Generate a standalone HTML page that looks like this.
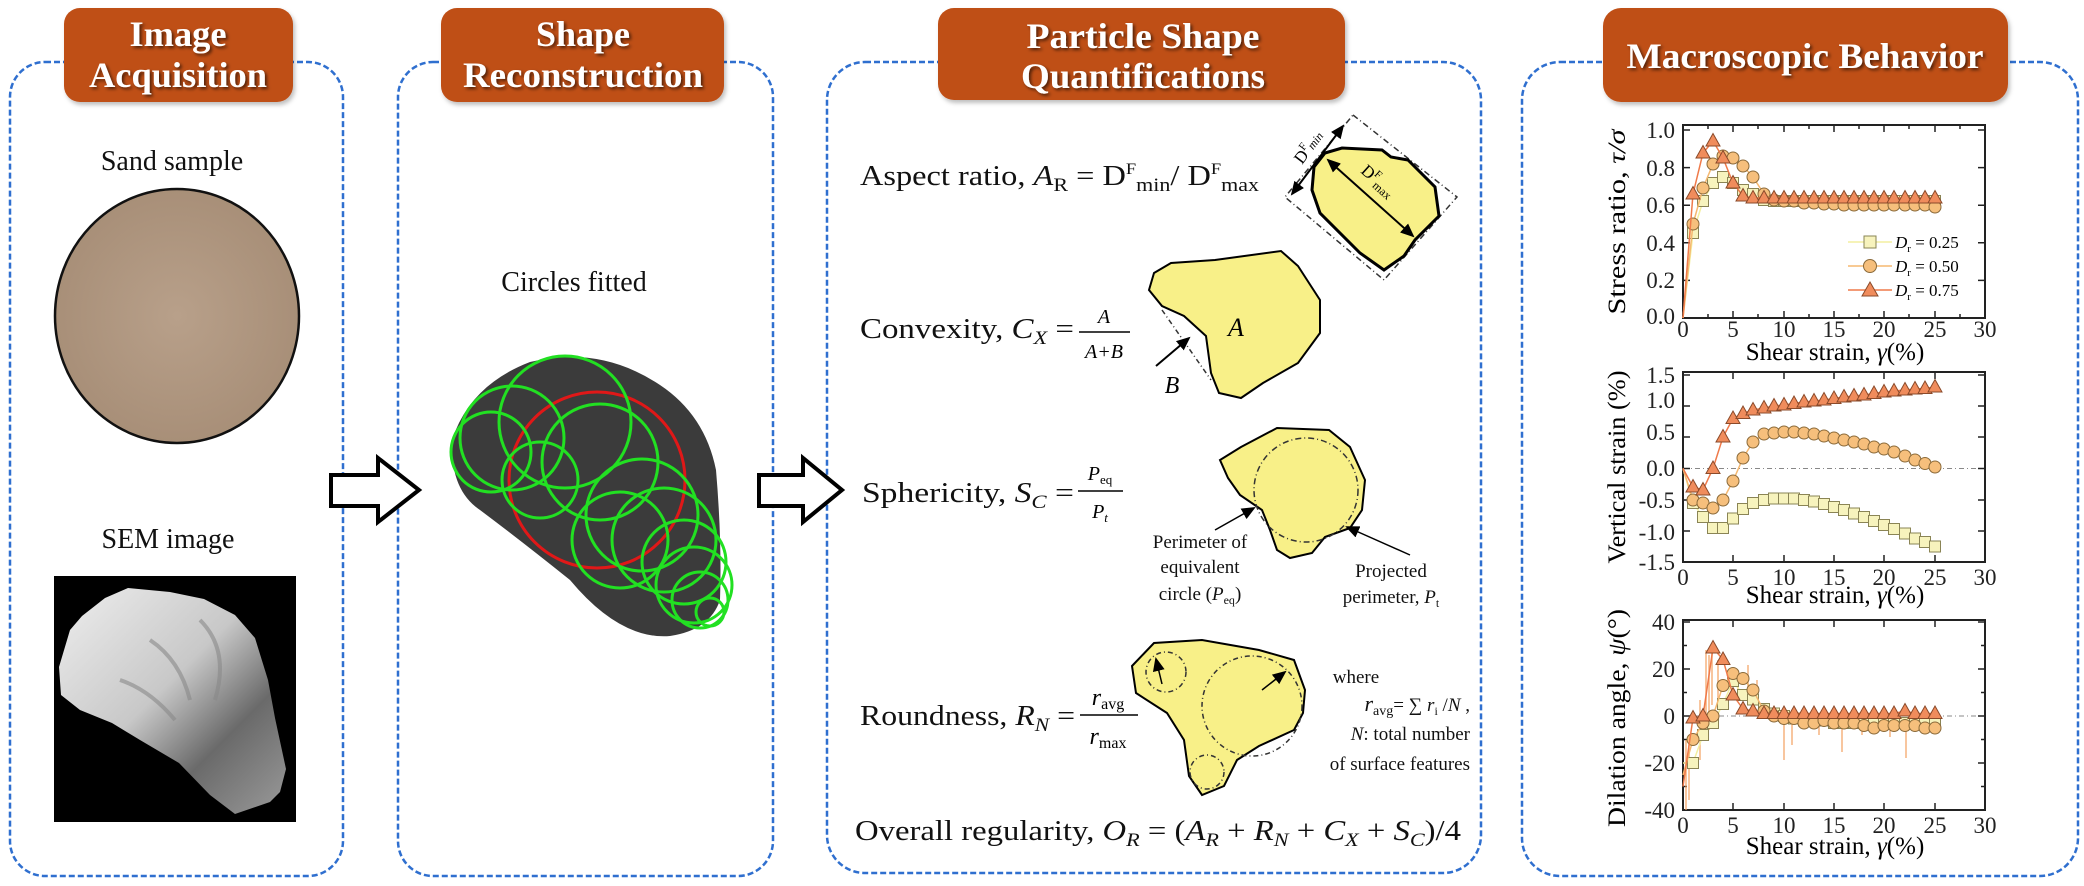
<!DOCTYPE html>
<html><head><meta charset="utf-8"><style>
html,body{margin:0;padding:0;background:#fff;}
svg{display:block;}
text{font-family:"Liberation Serif",serif;}
.hd{fill:#fff;font-weight:bold;font-size:36px;text-anchor:middle;}
.pn{fill:none;stroke:#2f6fcf;stroke-width:2.5;stroke-dasharray:6 3;}
.hb{fill:#bf5019;}
.t{font-size:28px;fill:#111;}
.tk{font-size:23px;fill:#222;}
.ax{fill:none;stroke:#222;stroke-width:2;}
.sm{font-size:19px;fill:#111;}
</style></head><body>
<svg width="2084" height="886" viewBox="0 0 2084 886" xmlns="http://www.w3.org/2000/svg">
<defs>
<filter id="sh" x="-10%" y="-10%" width="120%" height="130%"><feDropShadow dx="2" dy="2" stdDeviation="1.5" flood-color="#000" flood-opacity="0.6"/></filter>
<filter id="bs" x="-10%" y="-10%" width="120%" height="130%"><feDropShadow dx="2" dy="3" stdDeviation="2" flood-color="#000" flood-opacity="0.25"/></filter>
<radialGradient id="sand" cx="50%" cy="50%" r="50%"><stop offset="0" stop-color="#b8a08a"/><stop offset="1" stop-color="#a88f78"/></radialGradient>
<linearGradient id="rock" x1="0" y1="0" x2="1" y2="1"><stop offset="0" stop-color="#eeeeee"/><stop offset="0.45" stop-color="#c8c8c8"/><stop offset="0.7" stop-color="#6a6a6a"/><stop offset="1" stop-color="#9a9a9a"/></linearGradient>
<marker id="msq" markerUnits="userSpaceOnUse" markerWidth="14" markerHeight="14" refX="7" refY="7"><rect x="1.5" y="1.5" width="11" height="11" fill="#f7f3bd" stroke="#8a8455" stroke-width="1"/></marker>
<marker id="mci" markerUnits="userSpaceOnUse" markerWidth="14" markerHeight="14" refX="7" refY="7"><circle cx="7" cy="7" r="6" fill="#f6bf7c" stroke="#8a6a3a" stroke-width="1"/></marker>
<marker id="mtr" markerUnits="userSpaceOnUse" markerWidth="16" markerHeight="16" refX="8" refY="9"><path d="M8 1.5 L15 14 L1 14 Z" fill="#f08c5c" stroke="#8a4a2a" stroke-width="1"/></marker>
<marker id="ah" markerUnits="userSpaceOnUse" markerWidth="14" markerHeight="12" refX="12" refY="6" orient="auto"><path d="M0 0 L14 6 L0 12 Z" fill="#000"/></marker>
<marker id="ahs" markerUnits="userSpaceOnUse" markerWidth="14" markerHeight="12" refX="2" refY="6" orient="auto"><path d="M14 0 L0 6 L14 12 Z" fill="#000"/></marker>
</defs>

<rect class="pn" x="10" y="62" width="333" height="814" rx="35"/>
<rect class="pn" x="398" y="62" width="375" height="814" rx="35"/>
<rect class="pn" x="827" y="62" width="654" height="811" rx="38"/>
<rect class="pn" x="1522" y="62" width="556" height="814" rx="38"/>

<rect class="hb" filter="url(#bs)" x="64" y="8" width="229" height="94" rx="16"/>
<text class="hd" filter="url(#sh)" x="178" y="46" font-size="34" textLength="97" lengthAdjust="spacingAndGlyphs">Image</text>
<text class="hd" filter="url(#sh)" x="178" y="87" font-size="34" textLength="178" lengthAdjust="spacingAndGlyphs">Acquisition</text>

<rect class="hb" filter="url(#bs)" x="441" y="8" width="283" height="94" rx="16"/>
<text class="hd" filter="url(#sh)" x="583" y="46" font-size="34" textLength="94" lengthAdjust="spacingAndGlyphs">Shape</text>
<text class="hd" filter="url(#sh)" x="583" y="87" font-size="34" textLength="240" lengthAdjust="spacingAndGlyphs">Reconstruction</text>

<rect class="hb" filter="url(#bs)" x="938" y="8" width="407" height="92" rx="16"/>
<text class="hd" filter="url(#sh)" x="1143" y="48" textLength="233" lengthAdjust="spacingAndGlyphs">Particle Shape</text>
<text class="hd" filter="url(#sh)" x="1143" y="88" textLength="244" lengthAdjust="spacingAndGlyphs">Quantifications</text>

<rect class="hb" filter="url(#bs)" x="1603" y="8" width="405" height="94" rx="18"/>
<text class="hd" filter="url(#sh)" x="1805" y="68" textLength="357" lengthAdjust="spacingAndGlyphs">Macroscopic Behavior</text>

<text class="t" x="172" y="170" font-size="41" text-anchor="middle">Sand sample</text>
<ellipse cx="177" cy="316" rx="122" ry="127" fill="url(#sand)" stroke="#111" stroke-width="2.5"/>
<text class="t" x="168" y="548" font-size="41" text-anchor="middle">SEM image</text>
<rect x="54" y="576" width="242" height="246" fill="#000"/>
<path d="M59 667 L70 630 L82 616 L105 598 L128 588 L170 592 L204 599 L235 615 L255 638 L268 680 L275 718 L286 769 L280 792 L270 802 L235 814 L210 795 L179 763 L140 740 L112 723 L80 710 L61 695 Z" fill="url(#rock)"/>
<path d="M150 640 Q180 660 190 700 M200 620 Q230 650 215 700 M120 680 Q150 690 175 720" stroke="#888" stroke-width="4" fill="none" opacity="0.6"/>

<path d="M331 475 L378 475 L378 458 L419 490 L378 522 L378 506 L331 506 Z" fill="#fff" stroke="#000" stroke-width="4" stroke-linejoin="miter"/>

<text class="t" x="574" y="291" font-size="41" text-anchor="middle">Circles fitted</text>
<path d="M452 440 Q470 385 530 362 Q600 345 660 385 Q705 415 716 470 Q722 540 720 600 Q710 630 670 636 Q620 640 570 580 Q520 540 480 510 Q450 490 452 440 Z" fill="#3b3b3b"/>
<g fill="none" stroke-width="3">
<circle cx="597" cy="480" r="88" stroke="#e01818"/>
<g stroke="#22e022">
<circle cx="491" cy="452" r="40"/>
<circle cx="512" cy="438" r="52"/>
<circle cx="565" cy="422" r="66"/>
<circle cx="600" cy="462" r="58"/>
<circle cx="540" cy="480" r="38"/>
<circle cx="642" cy="515" r="56"/>
<circle cx="664" cy="540" r="52"/>
<circle cx="684" cy="562" r="42"/>
<circle cx="694" cy="585" r="38"/>
<circle cx="700" cy="600" r="28"/>
<circle cx="710" cy="612" r="14"/>
<circle cx="620" cy="540" r="48"/>
</g></g>

<path d="M759 475 L803 475 L803 458 L842 490 L803 522 L803 506 L759 506 Z" fill="#fff" stroke="#000" stroke-width="4"/>

<text class="t" x="860" y="185" textLength="399" lengthAdjust="spacingAndGlyphs">Aspect ratio,  <tspan font-style="italic">A</tspan><tspan font-size="19" dy="6">R</tspan><tspan dy="-6"> = D</tspan><tspan font-size="16" dy="-11">F</tspan><tspan font-size="19" dy="17">min</tspan><tspan dy="-6">/ D</tspan><tspan font-size="16" dy="-11">F</tspan><tspan font-size="19" dy="17">max</tspan></text>
<path d="M1353 115 L1457 197 L1384 280 L1285 197 Z" fill="none" stroke="#333" stroke-width="1.5" stroke-dasharray="6 3 1 3"/>
<path d="M1325 153 L1342 148 L1382 150 L1391 157 L1408 160 L1435 187 L1439 216 L1415 240 L1404 256 L1384 270 L1360 253 L1320 213 L1312 190 L1314 167 Z" fill="#f8f088" stroke="#000" stroke-width="3"/>
<line x1="1292" y1="194" x2="1343" y2="126" stroke="#000" stroke-width="2" marker-end="url(#ah)" marker-start="url(#ahs)"/>
<line x1="1328" y1="160" x2="1413" y2="236" stroke="#000" stroke-width="2" marker-end="url(#ah)" marker-start="url(#ahs)"/>
<text x="1302" y="165" font-size="17" transform="rotate(-53 1302 165)">D<tspan font-size="11" dy="-7">F</tspan><tspan font-size="12" dy="7" font-style="italic">min</tspan></text>
<text x="1360" y="172" font-size="17" transform="rotate(42 1360 172)">D<tspan font-size="11" dy="-7">F</tspan><tspan font-size="12" dy="10">max</tspan></text>

<text class="t" x="860" y="338" textLength="214" lengthAdjust="spacingAndGlyphs">Convexity, <tspan font-style="italic">C</tspan><tspan font-size="19" dy="6" font-style="italic">X</tspan><tspan dy="-6"> =</tspan></text>
<text x="1104" y="323" font-size="20" font-style="italic" text-anchor="middle">A</text>
<line x1="1079" y1="332" x2="1130" y2="332" stroke="#000" stroke-width="1.5"/>
<text x="1104" y="358" font-size="20" font-style="italic" text-anchor="middle">A+B</text>
<path d="M1154 273 L1171 263 L1215 260 L1281 251 L1298 266 L1320 300 L1320 333 L1298 363 L1263 383 L1241 398 L1219 393 L1211 373 L1206 336 L1184 316 L1162 306 L1149 290 Z" fill="#f8f088" stroke="#000" stroke-width="2"/>
<line x1="1162" y1="310" x2="1211" y2="380" stroke="#333" stroke-width="1.5" stroke-dasharray="5 3 1 3"/>
<line x1="1156" y1="366" x2="1189" y2="338" stroke="#000" stroke-width="2" marker-end="url(#ah)"/>
<text x="1236" y="336" font-size="26" font-style="italic" text-anchor="middle">A</text>
<text x="1172" y="393" font-size="24" font-style="italic" text-anchor="middle">B</text>

<text class="t" x="862" y="502" textLength="212" lengthAdjust="spacingAndGlyphs">Sphericity, <tspan font-style="italic">S</tspan><tspan font-size="19" dy="6" font-style="italic">C</tspan><tspan dy="-6"> =</tspan></text>
<text x="1100" y="480" font-size="20" font-style="italic" text-anchor="middle">P<tspan font-size="13" dy="4" font-style="normal">eq</tspan></text>
<line x1="1078" y1="491" x2="1123" y2="491" stroke="#000" stroke-width="1.5"/>
<text x="1100" y="518" font-size="20" font-style="italic" text-anchor="middle">P<tspan font-size="13" dy="4">t</tspan></text>
<path d="M1241 447 L1277 428 L1329 430 L1350 447 L1365 480 L1362 510 L1350 528 L1325 537 L1312 553 L1290 558 L1277 550 L1270 530 L1262 510 L1240 495 L1228 478 L1220 460 Z" fill="#f8f088" stroke="#000" stroke-width="2"/>
<circle cx="1306" cy="490" r="52" fill="none" stroke="#333" stroke-width="1.5" stroke-dasharray="6 3 1 3"/>
<line x1="1215" y1="530" x2="1254" y2="508" stroke="#000" stroke-width="1.5" marker-end="url(#ah)"/>
<line x1="1410" y1="555" x2="1347" y2="527" stroke="#000" stroke-width="1.5" marker-end="url(#ah)"/>
<text class="sm" x="1200" y="548" text-anchor="middle">Perimeter of</text>
<text class="sm" x="1200" y="573" text-anchor="middle">equivalent</text>
<text class="sm" x="1200" y="600" text-anchor="middle">circle (<tspan font-style="italic">P</tspan><tspan font-size="12" dy="4">eq</tspan><tspan dy="-4">)</tspan></text>
<text class="sm" x="1391" y="577" text-anchor="middle">Projected</text>
<text class="sm" x="1391" y="603" text-anchor="middle">perimeter, <tspan font-style="italic">P</tspan><tspan font-size="12" dy="4">t</tspan></text>

<text class="t" x="860" y="725" textLength="215" lengthAdjust="spacingAndGlyphs">Roundness, <tspan font-style="italic">R</tspan><tspan font-size="19" dy="6" font-style="italic">N</tspan><tspan dy="-6"> =</tspan></text>
<text x="1108" y="705" font-size="24" font-style="italic" text-anchor="middle">r<tspan font-size="16" dy="4" font-style="normal">avg</tspan></text>
<line x1="1080" y1="715" x2="1138" y2="715" stroke="#000" stroke-width="1.5"/>
<text x="1108" y="744" font-size="24" font-style="italic" text-anchor="middle">r<tspan font-size="16" dy="4" font-style="normal">max</tspan></text>
<path d="M1132 666 L1154 643 L1202 640 L1259 650 L1294 660 L1305 690 L1303 713 L1294 730 L1259 746 L1237 760 L1224 786 L1202 795 L1189 776 L1184 740 L1167 713 L1136 693 Z" fill="#f8f088" stroke="#000" stroke-width="2"/>
<g fill="none" stroke="#333" stroke-width="1.5" stroke-dasharray="5 3 1 3">
<circle cx="1166" cy="672" r="20"/><circle cx="1252" cy="706" r="50"/><circle cx="1207" cy="772" r="17"/></g>
<line x1="1162" y1="684" x2="1156" y2="659" stroke="#000" stroke-width="1.5" marker-end="url(#ah)"/>
<line x1="1262" y1="690" x2="1285" y2="672" stroke="#000" stroke-width="1.5" marker-end="url(#ah)"/>
<text class="sm" x="1356" y="683" text-anchor="middle">where</text>
<text class="sm" x="1470" y="711" text-anchor="end"><tspan font-style="italic" font-size="22">r</tspan><tspan font-size="14" dy="4">avg</tspan><tspan dy="-4">= ∑ </tspan><tspan font-style="italic">r</tspan><tspan font-size="12" dy="4">i</tspan><tspan dy="-4"> /</tspan><tspan font-style="italic">N</tspan> ,</text>
<text class="sm" x="1470" y="740" text-anchor="end"><tspan font-style="italic">N</tspan>: total number</text>
<text class="sm" x="1470" y="770" text-anchor="end">of surface features</text>

<text class="t" x="855" y="840" font-size="30" textLength="606" lengthAdjust="spacingAndGlyphs">Overall regularity,  <tspan font-style="italic">O</tspan><tspan font-size="19" dy="6" font-style="italic">R</tspan><tspan dy="-6"> = (</tspan><tspan font-style="italic">A</tspan><tspan font-size="19" dy="6" font-style="italic">R</tspan><tspan dy="-6"> + </tspan><tspan font-style="italic">R</tspan><tspan font-size="19" dy="6" font-style="italic">N</tspan><tspan dy="-6"> + </tspan><tspan font-style="italic">C</tspan><tspan font-size="19" dy="6" font-style="italic">X</tspan><tspan dy="-6"> + </tspan><tspan font-style="italic">S</tspan><tspan font-size="19" dy="6" font-style="italic">C</tspan><tspan dy="-6">)/4</tspan></text>

<rect class="ax" x="1683" y="125" width="302" height="193"/>
<g stroke="#222" stroke-width="1.5">
<path d="M1683 130h7M1683 167.6h7M1683 205.2h7M1683 242.8h7M1683 280.4h7M1985 130h-7M1985 167.6h-7M1985 205.2h-7M1985 242.8h-7M1985 280.4h-7"/>
<path d="M1733 318v-7M1784 318v-7M1834 318v-7M1884 318v-7M1935 318v-7M1733 125v7M1784 125v7M1834 125v7M1884 125v7M1935 125v7M1708 125v4M1758 125v4M1809 125v4M1859 125v4M1909 125v4M1960 125v4M1708 318v-4M1758 318v-4M1809 318v-4M1859 318v-4M1909 318v-4M1960 318v-4"/>
</g>
<g class="tk" text-anchor="end"><text x="1675" y="138">1.0</text><text x="1675" y="176">0.8</text><text x="1675" y="213">0.6</text><text x="1675" y="251">0.4</text><text x="1675" y="288">0.2</text><text x="1675" y="324">0.0</text></g>
<g class="tk" text-anchor="middle"><text x="1683" y="337">0</text><text x="1733" y="337">5</text><text x="1784" y="337">10</text><text x="1834" y="337">15</text><text x="1884" y="337">20</text><text x="1935" y="337">25</text><text x="1985" y="337">30</text></g>
<text x="1835" y="360" font-size="25" text-anchor="middle">Shear strain, <tspan font-style="italic">γ</tspan>(%)</text>
<text x="1625" y="222" font-size="25" text-anchor="middle" transform="rotate(-90 1625 222)" textLength="185" lengthAdjust="spacingAndGlyphs">Stress ratio, <tspan font-style="italic">τ/σ</tspan></text>
<polyline fill="none" stroke="#f3efa0" stroke-width="1.5" marker-mid="url(#msq)" marker-end="url(#msq)" points="1683,318 1693,233 1703,201 1713,183 1723,177 1733,183 1743,190 1753,194 1764,200 1774,201 1784,201 1794,201 1804,201 1814,201 1824,201 1834,201 1844,201 1854,201 1864,201 1874,201 1884,201 1894,201 1905,201 1915,201 1925,201 1935,201"/>
<polyline fill="none" stroke="#f5b870" stroke-width="1.5" marker-mid="url(#mci)" marker-end="url(#mci)" points="1683,318 1693,224 1703,188 1713,164 1723,156 1733,158 1743,166 1753,177 1764,194 1774,200 1784,201 1794,201 1804,203 1814,203 1824,204 1834,204 1844,205 1854,205 1864,205 1874,205 1884,205 1894,205 1905,205 1915,205 1925,205 1935,207"/>
<polyline fill="none" stroke="#ef7a4a" stroke-width="1.5" marker-mid="url(#mtr)" marker-end="url(#mtr)" points="1683,318 1693,194 1703,153 1713,141 1723,158 1733,183 1743,196 1753,198 1764,198 1774,198 1784,198 1794,198 1804,198 1814,198 1824,198 1834,198 1844,198 1854,198 1864,198 1874,198 1884,198 1894,198 1905,198 1915,198 1925,198 1935,198"/>
<line x1="1848" y1="242" x2="1892" y2="242" stroke="#f3efa0" stroke-width="1.5"/><rect x="1864" y="236" width="12" height="12" fill="#f7f3bd" stroke="#8a8455"/>
<line x1="1848" y1="266" x2="1892" y2="266" stroke="#f5b870" stroke-width="1.5"/><circle cx="1870" cy="266" r="6.5" fill="#f6bf7c" stroke="#8a6a3a"/>
<line x1="1848" y1="290" x2="1892" y2="290" stroke="#ef7a4a" stroke-width="1.5"/><path d="M1870 282 L1878 296 L1862 296 Z" fill="#f08c5c" stroke="#8a4a2a"/>
<g font-size="17"><text x="1895" y="248"><tspan font-style="italic">D</tspan><tspan font-size="11" dy="4">r</tspan><tspan dy="-4"> = 0.25</tspan></text>
<text x="1895" y="272"><tspan font-style="italic">D</tspan><tspan font-size="11" dy="4">r</tspan><tspan dy="-4"> = 0.50</tspan></text>
<text x="1895" y="296"><tspan font-style="italic">D</tspan><tspan font-size="11" dy="4">r</tspan><tspan dy="-4"> = 0.75</tspan></text></g>

<rect class="ax" x="1683" y="372" width="302" height="190"/>
<line x1="1683" y1="468.5" x2="1985" y2="468.5" stroke="#888" stroke-width="1" stroke-dasharray="5 3 1 3"/>
<g stroke="#222" stroke-width="1.5">
<path d="M1683 375h7M1683 406h7M1683 437h7M1683 468.5h7M1683 500h7M1683 531h7M1985 375h-7M1985 406h-7M1985 437h-7M1985 468.5h-7M1985 500h-7M1985 531h-7"/>
<path d="M1733 562v-7M1784 562v-7M1834 562v-7M1884 562v-7M1935 562v-7M1733 372v7M1784 372v7M1834 372v7M1884 372v7M1935 372v7"/>
</g>
<g class="tk" text-anchor="end"><text x="1675" y="383">1.5</text><text x="1675" y="408">1.0</text><text x="1675" y="440">0.5</text><text x="1675" y="476">0.0</text><text x="1675" y="508">-0.5</text><text x="1675" y="540">-1.0</text><text x="1675" y="570">-1.5</text></g>
<g class="tk" text-anchor="middle"><text x="1683" y="585">0</text><text x="1733" y="585">5</text><text x="1784" y="585">10</text><text x="1834" y="585">15</text><text x="1884" y="585">20</text><text x="1935" y="585">25</text><text x="1985" y="585">30</text></g>
<text x="1835" y="603" font-size="25" text-anchor="middle">Shear strain, <tspan font-style="italic">γ</tspan>(%)</text>
<text x="1625" y="467" font-size="25" text-anchor="middle" transform="rotate(-90 1625 467)" textLength="193" lengthAdjust="spacingAndGlyphs">Vertical strain (%)</text>
<polyline fill="none" stroke="#f3efa0" stroke-width="1.5" marker-mid="url(#msq)" marker-end="url(#msq)" points="1683,468.5 1693,503 1703,517 1713,528 1723,528 1733,518.5 1743,509 1753,503 1764,500 1774,498.5 1784,498.5 1794,498.5 1804,500 1814,501.5 1824,504 1834,507 1844,510 1854,513.5 1864,517 1874,521 1884,525 1894,529 1905,533.5 1915,538.5 1925,542 1935,546.5"/>
<polyline fill="none" stroke="#f5b870" stroke-width="1.5" marker-mid="url(#mci)" marker-end="url(#mci)" points="1683,468.5 1693,500 1703,503 1713,508 1723,500 1733,481 1743,458 1753,442 1764,434 1774,433 1784,432 1794,432 1804,433 1814,434 1824,436 1834,438 1844,440 1854,442 1864,444 1874,447 1884,449 1894,452 1905,456 1915,460 1925,463.5 1935,467"/>
<polyline fill="none" stroke="#ef7a4a" stroke-width="1.5" marker-mid="url(#mtr)" marker-end="url(#mtr)" points="1683,468.5 1693,487 1703,490 1713,468.5 1723,437 1733,418.5 1743,413.5 1753,410 1764,408 1774,406 1784,405 1794,403.5 1804,402 1814,401 1824,400 1834,398.5 1844,397 1854,396 1864,395 1874,393.5 1884,392 1894,391 1905,390 1915,389 1925,388.5 1935,387"/>

<rect class="ax" x="1683" y="620" width="302" height="190"/>
<line x1="1683" y1="716" x2="1985" y2="716" stroke="#888" stroke-width="1" stroke-dasharray="5 3 1 3"/>
<g stroke="#222" stroke-width="1.5">
<path d="M1683 622h7M1683 669h7M1683 716h7M1683 763h7M1985 622h-7M1985 669h-7M1985 716h-7M1985 763h-7M1683 645.5h4M1683 692.5h4M1683 739.5h4M1683 786.5h4M1985 645.5h-4M1985 692.5h-4M1985 739.5h-4M1985 786.5h-4"/>
<path d="M1733 810v-7M1784 810v-7M1834 810v-7M1884 810v-7M1935 810v-7M1733 620v7M1784 620v7M1834 620v7M1884 620v7M1935 620v7"/>
</g>
<g class="tk" text-anchor="end"><text x="1675" y="630">40</text><text x="1675" y="677">20</text><text x="1675" y="724">0</text><text x="1675" y="771">-20</text><text x="1675" y="818">-40</text></g>
<g class="tk" text-anchor="middle"><text x="1683" y="833">0</text><text x="1733" y="833">5</text><text x="1784" y="833">10</text><text x="1834" y="833">15</text><text x="1884" y="833">20</text><text x="1935" y="833">25</text><text x="1985" y="833">30</text></g>
<text x="1835" y="854" font-size="25" text-anchor="middle">Shear strain, <tspan font-style="italic">γ</tspan>(%)</text>
<text x="1625" y="718" font-size="25" text-anchor="middle" transform="rotate(-90 1625 718)" textLength="218" lengthAdjust="spacingAndGlyphs">Dilation angle, <tspan font-style="italic">ψ</tspan>(°)</text>
<g stroke="#f5a060" stroke-width="1.5" opacity="0.8">
<path d="M1686 810V740M1689 800V735M1700 760V700M1706 740V650M1709 730V655M1712 705V650M1718 700V660M1738 700V670M1748 690V665M1757 680V700M1784 712V760M1792 718V745M1819 718V735M1842 718V752M1862 718V735M1874 718V730M1890 718V737M1900 718V726M1906 718V758M1925 718V725"/>
</g>
<polyline fill="none" stroke="#f3efa0" stroke-width="1.5" marker-mid="url(#msq)" marker-end="url(#msq)" points="1683,763 1693,763 1703,735 1713,723 1723,704 1733,681 1743,695 1753,699.5 1764,709 1774,713.5 1784,716 1794,718.5 1804,720.5 1814,720.5 1824,720.5 1834,723 1844,723 1854,723 1864,723 1874,723 1884,723 1894,723 1905,723 1915,723 1925,723 1935,723"/>
<polyline fill="none" stroke="#f5b870" stroke-width="1.5" marker-mid="url(#mci)" marker-end="url(#mci)" points="1683,775 1693,739.5 1703,723 1713,716 1723,685.5 1733,673.5 1743,678.5 1753,690 1764,711 1774,716 1784,718.5 1794,718.5 1804,723 1814,723 1824,720.5 1834,723 1844,723 1854,723 1864,725.5 1874,728 1884,725.5 1894,725.5 1905,725.5 1915,725.5 1925,728 1935,728"/>
<polyline fill="none" stroke="#ef7a4a" stroke-width="1.5" marker-mid="url(#mtr)" marker-end="url(#mtr)" points="1683,786.5 1693,718 1703,716 1713,648 1723,659.5 1733,695 1743,709 1753,711 1764,713.5 1774,713.5 1784,713.5 1794,713.5 1804,713.5 1814,713.5 1824,713.5 1834,713.5 1844,713.5 1854,713.5 1864,713.5 1874,713.5 1884,713.5 1894,713.5 1905,711 1915,713.5 1925,713.5 1935,713.5"/>
</svg>
</body></html>
